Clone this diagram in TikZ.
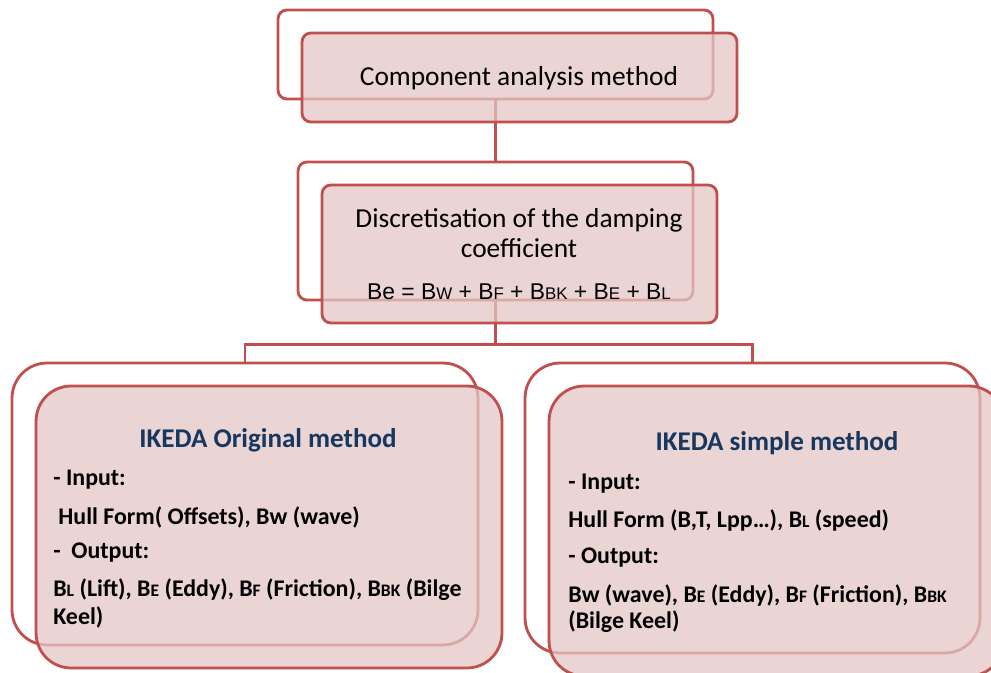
\documentclass[tikz,border=0pt]{standalone}
\usepackage{fontspec}
\setmainfont{Carlito}
\newfontfamily\arialf{Liberation Sans}
\usetikzlibrary{positioning,calc}
\definecolor{boxred}{RGB}{192,80,77}
\definecolor{boxpink}{RGB}{228,198,198}
\definecolor{titleblue}{RGB}{23,55,94}
\newcommand{\smf}[1]{{\fontsize{9.6}{10}\selectfont #1}}
\newcommand{\smb}[1]{{\fontsize{10}{10}\selectfont #1}}
\tikzset{
  backbox/.style  = {draw=boxred, line width=1.6pt, fill=white, rounded corners=5pt, inner sep=0pt},
  frontbox/.style = {draw=boxred, line width=1.6pt, fill=boxpink, fill opacity=0.75, rounded corners=5pt, inner sep=0pt},
  bigback/.style  = {backbox, rounded corners=0.7cm},
  bigfront/.style = {frontbox, rounded corners=0.7cm},
  link/.style     = {draw=boxred, line width=1.6pt},
  headtxt/.style  = {font=\fontsize{15.6}{16}\selectfont, inner sep=0pt},
  formtxt/.style  = {font=\arialf\fontsize{13}{14}\selectfont, inner sep=0pt},
  ikedattl/.style = {font=\fontsize{15.4}{16}\selectfont\bfseries, text=titleblue, inner sep=0pt},
  itemtxt/.style  = {font=\fontsize{13.6}{15}\selectfont\bfseries, anchor=west, inner sep=0pt},
}

\begin{document}
\begin{tikzpicture}[x=0.02cm,y=-0.02cm]
  \useasboundingbox (0,0) rectangle (991,673);

  % back boxes
  \node[backbox, minimum width=8.7cm, minimum height=1.78cm] (topback) at (495.5,54.5) {};
  \node[backbox, minimum width=7.9cm, minimum height=2.76cm] (midback) at (495.5,231) {};
  \node[bigback, minimum width=9.32cm, minimum height=5.64cm] (leftback) at (245,504) {};
  \node[bigback, minimum width=9.1cm, minimum height=5.8cm] (rightback) at (752.5,508) {};

  % connectors
  \coordinate (split) at ($(midback.south)+(0,43)$);
  \draw[link] (topback.south) -- (midback.north);
  \draw[link] (midback.south) -- (split);
  \draw[link] (leftback.north) |- (split) -| (rightback.north);

  % front boxes
  \node[frontbox, minimum width=8.7cm, minimum height=1.78cm] (topfront) at ($(topback)+(24,23)$) {};
  \node[frontbox, minimum width=7.9cm, minimum height=2.76cm] (midfront) at ($(midback)+(24,23)$) {};
  \node[bigfront, minimum width=9.32cm, minimum height=5.64cm] (leftfront) at ($(leftback)+(24,23)$) {};
  \node[bigfront, minimum width=9.1cm, minimum height=5.8cm] (rightfront) at ($(rightback)+(24,23)$) {};

  \node[headtxt] (toptxt) at (519,78) {Component analysis method};
  \node[headtxt] (midl1) at (519,220) {Discretisation of the damping};
  \node[headtxt] (midl2) at (519,248) {coefficient};
  \node[formtxt] (midf) at (519,292) {Be = B\smf{W} + B\smf{F} + B\smf{BK} + B\smf{E} + B\smf{L}};

  \node[ikedattl] (lttl) at (268,440) {IKEDA Original method};
  \node[itemtxt] (lin) at (53,480) {- Input:};
  \node[itemtxt] (linv) at (58,517) {Hull Form( Offsets), Bw (wave)};
  \node[itemtxt] (lout) at (53,553) {-\ \ Output:};
  \node[itemtxt] (loutv) at (53,590) {B\smb{L} (Lift), B\smb{E} (Eddy), B\smb{F} (Friction), B\smb{BK} (Bilge};
  \node[itemtxt] (loutw) at (53,617) {Keel)};

  \node[ikedattl] (rttl) at (777,443) {IKEDA simple method};
  \node[itemtxt] (rin) at (568,484) {- Input:};
  \node[itemtxt] (rinv) at (568,521) {Hull Form (B,T, Lpp…), B\smb{L} (speed)};
  \node[itemtxt] (rout) at (568,558) {- Output:};
  \node[itemtxt] (routv) at (568,596) {Bw (wave), B\smb{E} (Eddy), B\smb{F} (Friction), B\smb{BK}};
  \node[itemtxt] (routw) at (568,622) {(Bilge Keel)};
\end{tikzpicture}
\end{document}
